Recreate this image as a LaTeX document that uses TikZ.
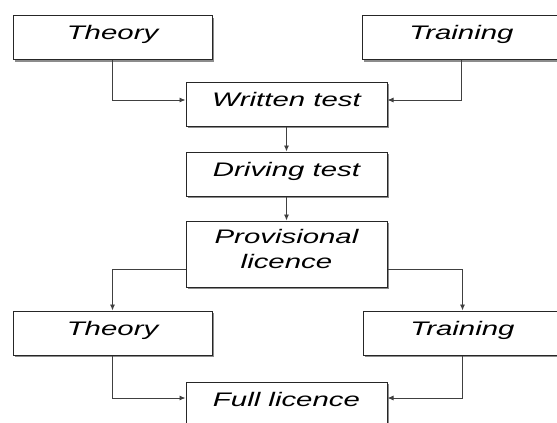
\documentclass[tikz,border=0pt]{standalone}
\usepackage{fontspec}
\newfontfamily\stagefont{Liberation Sans}[FakeStretch=1.5]
\usetikzlibrary{shadows,arrows.meta}

\begin{document}
\begin{tikzpicture}[x=1pt,y=-1pt]
\tikzstyle{every node}+=[inner sep=0pt]
\tikzstyle{stage}=[draw=black!85,line width=1pt,fill=white,minimum width=199pt,minimum height=44pt,
  text height=14pt,text depth=10pt,align=center,font=\stagefont\itshape\fontsize{19.6}{25}\selectfont,
  drop shadow={shadow xshift=2.2pt,shadow yshift=-2.2pt,fill=black!45,opacity=1}]
\tikzstyle{link}=[draw=black!75,line width=0.9pt,-{Latex[length=6pt,width=5pt]}]
\path[use as bounding box] (0,0) rectangle (557,423);
\clip (0,0) rectangle (557,423);
\node[stage] (theoryA) at (112.5,37.5) {Theory};
\node[stage] (trainingA) at (461.5,37.5) {Training};
\node[stage,minimum width=201pt] (written) at (286.5,104) {Written test};
\node[stage,minimum width=201pt] (driving) at (286.5,174) {Driving test};
\node[stage,minimum width=201pt,minimum height=66pt,text height=39pt,text depth=11pt] (provisional) at (286.5,254) {Provisional\\licence};
\node[stage] (theoryB) at (112.5,333) {Theory};
\node[stage] (trainingB) at (462.5,333) {Training};
\node[stage,minimum width=201pt] (full) at (286.5,404) {Full licence};
\draw[link] (theoryA) |- ([yshift=4pt]written.west);
\draw[link] (trainingA) |- ([yshift=4pt]written.east);
\draw[link] (written) -- (driving);
\draw[link] (driving) -- (provisional);
\draw[link] ([yshift=-15pt]provisional.west) -| (theoryB);
\draw[link] ([yshift=-15pt]provisional.east) -| (trainingB);
\draw[link] (theoryB) |- ([yshift=6pt]full.west);
\draw[link] (trainingB) |- ([yshift=6pt]full.east);
\end{tikzpicture}
\end{document}
